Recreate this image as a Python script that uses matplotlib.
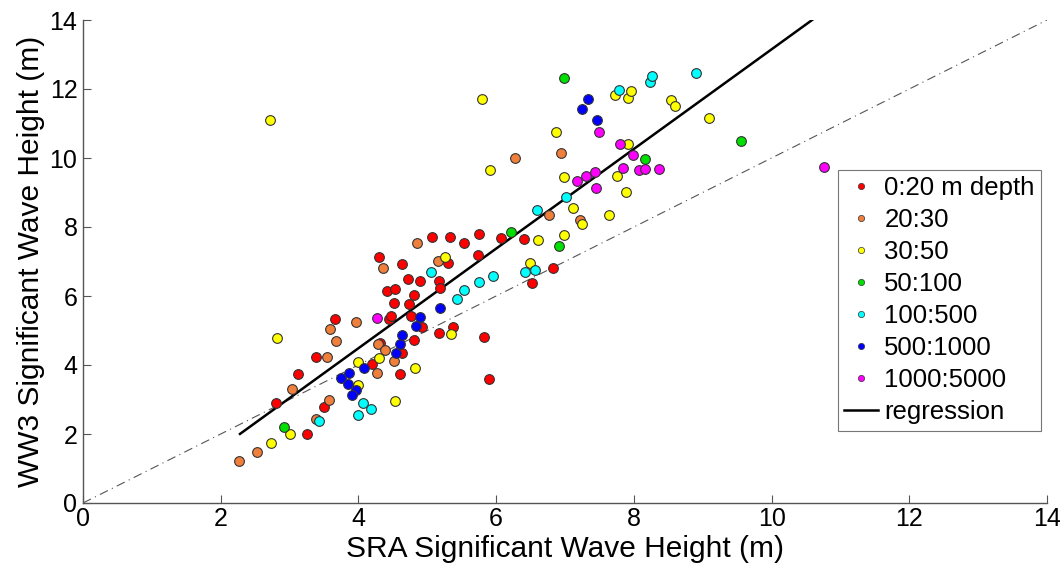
import matplotlib
matplotlib.use("Agg")
import matplotlib.pyplot as plt

plt.rcParams['font.family'] = ['Liberation Sans', 'DejaVu Sans']

# ---- data ----
red_x = [2.80, 3.25, 3.50, 3.12, 3.38, 3.66, 4.19, 4.60, 4.64, 4.31, 4.80, 4.44, 4.48, 4.76,
         4.93, 5.17, 5.37, 4.52, 4.74, 4.42, 4.53, 4.81, 4.72, 4.89, 5.17, 5.19, 4.64, 4.30,
         5.30, 5.74, 5.07, 5.33, 5.53, 5.75, 6.07, 6.40, 6.82, 6.52, 5.83, 5.90]
red_y = [2.89, 1.99, 2.77, 3.73, 4.23, 5.33, 4.04, 3.73, 4.34, 4.64, 4.73, 5.33, 5.43, 5.41,
         5.10, 4.94, 5.11, 5.80, 5.78, 6.15, 6.21, 6.04, 6.50, 6.44, 6.43, 6.24, 6.93, 7.12,
         6.97, 7.19, 7.70, 7.72, 7.55, 7.80, 7.69, 7.66, 6.82, 6.38, 4.81, 3.59]

orange_x = [2.27, 2.53, 3.04, 3.39, 3.57, 3.54, 3.58, 3.68, 3.97, 4.27, 4.28, 4.39, 4.52, 4.35,
            4.85, 5.15, 6.27, 6.94, 6.77, 7.22]
orange_y = [1.23, 1.49, 3.31, 2.43, 2.99, 4.23, 5.04, 4.69, 5.25, 3.78, 4.60, 4.43, 4.12, 6.82,
            7.54, 7.02, 10.01, 10.15, 8.35, 8.20]

yellow_x = [2.73, 3.00, 2.82, 2.72, 3.99, 3.99, 4.30, 4.53, 4.82, 5.34, 5.26, 5.79, 5.91, 6.49,
            6.61, 6.98, 6.87, 6.98, 7.11, 7.25, 7.64, 7.76, 7.88, 7.91, 7.72, 7.92, 7.96, 8.54,
            8.60, 9.09]
yellow_y = [1.75, 1.99, 4.78, 11.09, 3.42, 4.10, 4.20, 2.97, 3.91, 4.89, 7.12, 11.70, 9.64, 6.96,
            7.61, 7.77, 10.75, 9.46, 8.56, 8.08, 8.36, 9.49, 9.01, 10.42, 11.84, 11.73, 11.94, 11.68,
            11.52, 11.15]

green_x = [2.92, 6.22, 6.91, 6.98, 8.16, 9.55]
green_y = [2.20, 7.86, 7.46, 12.32, 9.98, 10.49]

cyan_x = [3.43, 3.99, 4.07, 4.18, 5.05, 5.43, 5.53, 5.75, 5.95, 6.42, 6.57, 6.59, 7.02, 7.79,
          8.23, 8.26, 8.90]
cyan_y = [2.38, 2.54, 2.91, 2.73, 6.70, 5.91, 6.18, 6.42, 6.58, 6.70, 6.76, 8.48, 8.87, 11.97,
          12.20, 12.38, 12.47]

blue_x = [3.74, 3.86, 3.85, 3.96, 3.91, 4.08, 4.55, 4.60, 4.64, 4.83, 4.89, 5.19, 7.25, 7.34, 7.46]
blue_y = [3.62, 3.78, 3.46, 3.28, 3.12, 3.92, 4.34, 4.60, 4.87, 5.13, 5.39, 5.65, 11.41, 11.71, 11.10]

magenta_x = [4.27, 7.18, 7.30, 7.43, 7.45, 7.50, 7.80, 7.99, 7.84, 8.08, 8.16, 8.36, 10.76]
magenta_y = [5.36, 9.33, 9.48, 9.59, 9.12, 10.76, 10.42, 10.09, 9.70, 9.66, 9.69, 9.67, 9.75]

labels = ['0:20 m depth', '20:30', '30:50', '50:100', '100:500', '500:1000', '1000:5000']
colors = ['#ff0000', '#f07f3c', '#ffff00', '#00e000', '#00ffff', '#0000ff', '#ff00ff']

reg_x = [2.28, 10.59]
reg_slope = 1.444
reg_intercept = -1.29
one_to_one = [0, 14]

groups = [(red_x, red_y), (orange_x, orange_y), (yellow_x, yellow_y), (green_x, green_y),
          (cyan_x, cyan_y), (blue_x, blue_y), (magenta_x, magenta_y)]

fig = plt.figure(figsize=(10.6, 5.7), dpi=100)
ax = fig.add_axes([83/1060, 67/570, 964/1060, 483/570])

ax.plot(one_to_one, one_to_one, color='#555555', lw=0.8, ls=(0, (8, 4, 1, 4)), zorder=1)

handles = []
for (gx, gy), c, lab in zip(groups, colors, labels):
    ax.plot(gx, gy, 'o', ls='none', ms=7, mfc=c, mec='#333333', mew=0.8, zorder=3)
    h, = ax.plot([], [], 'o', ls='none', ms=4.5, mfc=c, mec='#333333', mew=0.5, label=lab)
    handles.append(h)

ry = [reg_slope * v + reg_intercept for v in reg_x]
hreg, = ax.plot(reg_x, ry, color='black', lw=1.8, zorder=2, label='regression')
handles.append(hreg)

ax.set_xlim(0, 14)
ax.set_ylim(0, 14)
ax.set_xticks(range(0, 15, 2))
ax.set_yticks(range(0, 15, 2))
for s in ['top', 'right']:
    ax.spines[s].set_visible(False)
for s in ['left', 'bottom']:
    ax.spines[s].set_color('#555555')
    ax.spines[s].set_linewidth(1.0)
ax.tick_params(direction='in', length=6, width=0.8, color='#555555', labelsize=18,
               labelcolor='black')
ax.tick_params(axis='x', pad=3)
ax.tick_params(axis='y', pad=4)
ax.set_xlabel('SRA Significant Wave Height (m)', fontsize=21.5, labelpad=3)
ax.set_ylabel('WW3 Significant Wave Height (m)', fontsize=21.5, labelpad=3)

leg = fig.legend(handles=handles, loc='upper left', bbox_to_anchor=(838/1060, 1 - 170/570),
                 fontsize=18.5, frameon=True, fancybox=False, edgecolor='#555555',
                 handlelength=1.3, handletextpad=0.25, labelspacing=0.31, borderpad=0.25,
                 borderaxespad=0)
leg.get_frame().set_linewidth(0.8)

fig.savefig('out.png', dpi=100)
